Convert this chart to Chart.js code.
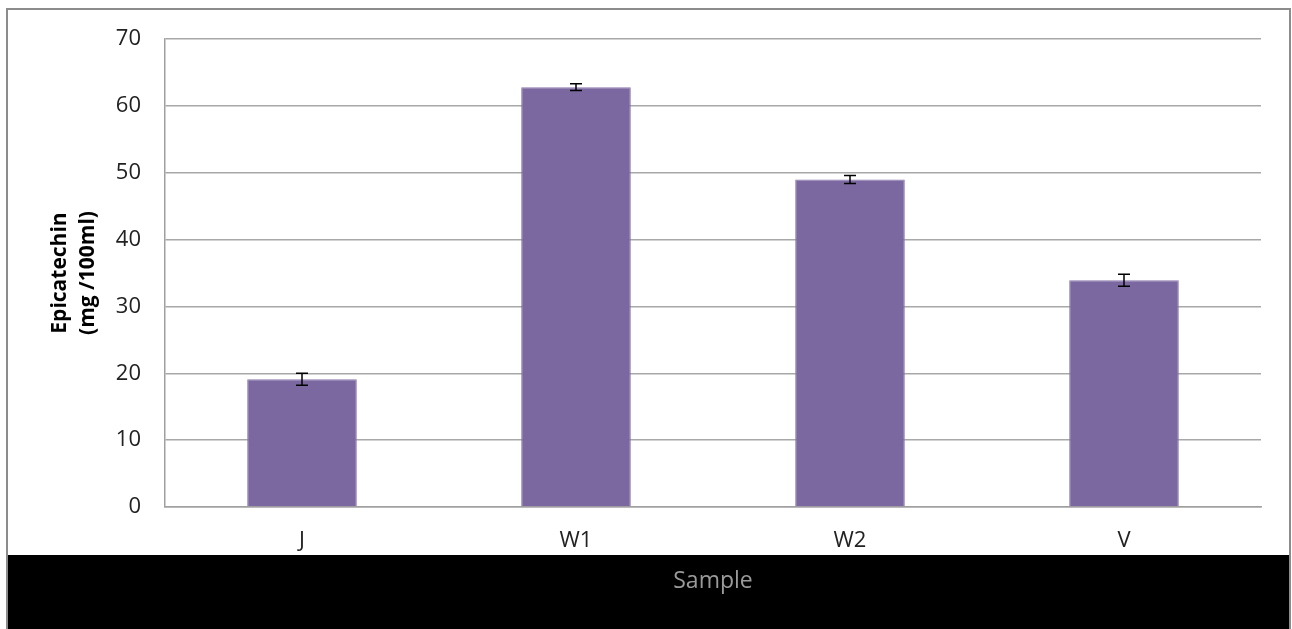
<!DOCTYPE html>
<html>
<head>
<meta charset="utf-8">
<script src="https://cdn.jsdelivr.net/npm/chart.js@4"></script>
<style>
  html, body { margin: 0; padding: 0; background: #fff; }
  #wrap { width: 1292px; height: 629px; }
</style>
</head>
<body>
<div id="wrap"><canvas id="chart" width="1292" height="629"></canvas></div>
<script>
// data
const samples = ['J', 'W1', 'W2', 'V'];
const epicatechin = [19.1, 62.8, 49.0, 33.9];
const errors = [0.9, 0.5, 0.6, 0.9];
const yTicks = [0, 10, 20, 30, 40, 50, 60, 70];

// frame + black band behind the chart
const backdrop = {
    id: 'backdrop',
    beforeDraw(chart) {
        const ctx = chart.ctx;
        ctx.save();
        ctx.fillStyle = '#fff';
        ctx.fillRect(0, 0, chart.width, chart.height);
        ctx.fillStyle = '#000';
        ctx.fillRect(7, 555, 1284, 74);
        ctx.strokeStyle = '#8c8c8c';
        ctx.lineWidth = 2;
        ctx.beginPath();
        ctx.moveTo(7, 629);
        ctx.lineTo(7, 9);
        ctx.lineTo(1290, 9);
        ctx.lineTo(1290, 629);
        ctx.stroke();
        ctx.restore();
    }
};

// error bars drawn through the y scale
const errorBars = {
    id: 'errorBars',
    afterDatasetsDraw(chart) {
        const ctx = chart.ctx;
        const y = chart.scales.y;
        const meta = chart.getDatasetMeta(0);
        ctx.save();
        ctx.strokeStyle = '#000';
        ctx.lineWidth = 1.5;
        meta.data.forEach((bar, i) => {
            const top = y.getPixelForValue(epicatechin[i] + errors[i]);
            const bot = y.getPixelForValue(epicatechin[i] - errors[i]);
            const x = bar.x;
            ctx.beginPath();
            ctx.moveTo(x, top); ctx.lineTo(x, bot);
            ctx.moveTo(x - 6, top); ctx.lineTo(x + 6, top);
            ctx.moveTo(x - 6, bot); ctx.lineTo(x + 6, bot);
            ctx.stroke();
        });
        ctx.restore();
    }
};

new Chart(document.getElementById('chart'), {
    type: 'bar',
    data: {
        labels: samples,
        datasets: [{
            data: epicatechin,
            backgroundColor: '#7b68a0',
            borderColor: '#8a78ad',
            borderWidth: 1,
            categoryPercentage: 1,
            barPercentage: 0.4
        }]
    },
    options: {
        responsive: false,
        animation: false,
        layout: { padding: { top: 39, right: 31, left: 0, bottom: 0 } },
        plugins: { legend: { display: false }, tooltip: { enabled: false } },
        scales: {
            x: {
                grid: { display: false, drawTicks: false },
                border: { color: '#a0a0a0', width: 1.5 },
                ticks: { color: '#222', padding: 21, font: { family: 'Open Sans', size: 22 } },
                title: {
                    display: true,
                    text: 'Sample',
                    color: '#9a9a9a',
                    font: { family: 'Open Sans', size: 23 },
                    padding: { top: 34, bottom: 34 }
                },
                afterFit(scale) { scale.height = 122; }
            },
            y: {
                min: 0,
                max: 70,
                afterBuildTicks(scale) { scale.ticks = yTicks.map(v => ({ value: v })); },
                grid: { color: '#a8a8a8', lineWidth: 1.5, drawTicks: false },
                border: { color: '#a0a0a0', width: 1.5 },
                ticks: { color: '#222', padding: 24, font: { family: 'Open Sans', size: 22 } },
                title: {
                    display: true,
                    text: ['Epicatechin', '(mg /100ml)'],
                    color: '#000',
                    font: { family: 'Open Sans', size: 21, weight: 'bold', lineHeight: 1.33 },
                    padding: { top: 46, bottom: 0 }
                },
                afterFit(scale) { scale.width = 165; }
            }
        }
    },
    plugins: [backdrop, errorBars]
});
</script>
</body>
</html>
